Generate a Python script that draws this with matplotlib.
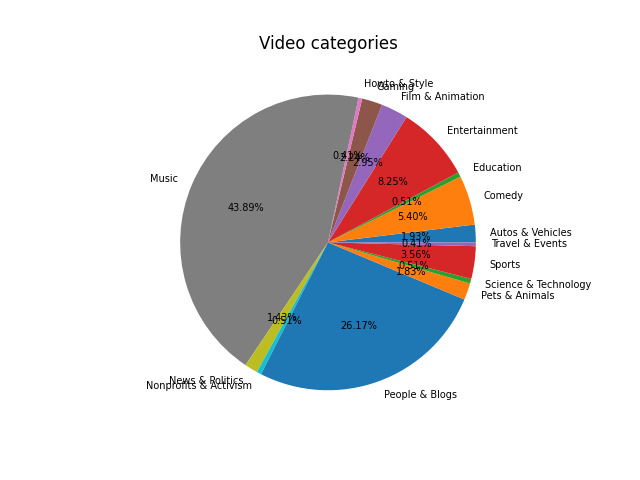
import matplotlib
matplotlib.use('Agg')
import matplotlib.pyplot as plt

categories = ['Autos & Vehicles', 'Comedy', 'Education', 'Entertainment',
              'Film & Animation', 'Gaming', 'Howto & Style', 'Music',
              'News & Politics', 'Nonprofits & Activism', 'People & Blogs',
              'Pets & Animals', 'Science & Technology', 'Sports',
              'Travel & Events']
shares = [1.93, 5.40, 0.51, 8.25, 2.95, 2.24, 0.41, 43.89,
          1.43, 0.51, 26.17, 1.83, 0.51, 3.56, 0.41]

plt.figure(figsize=(6.4, 4.8), dpi=100)
plt.pie(shares, labels=categories, autopct='%1.2f%%',
        textprops={'fontsize': 7})
plt.title('Video categories')
plt.savefig('out.png')
